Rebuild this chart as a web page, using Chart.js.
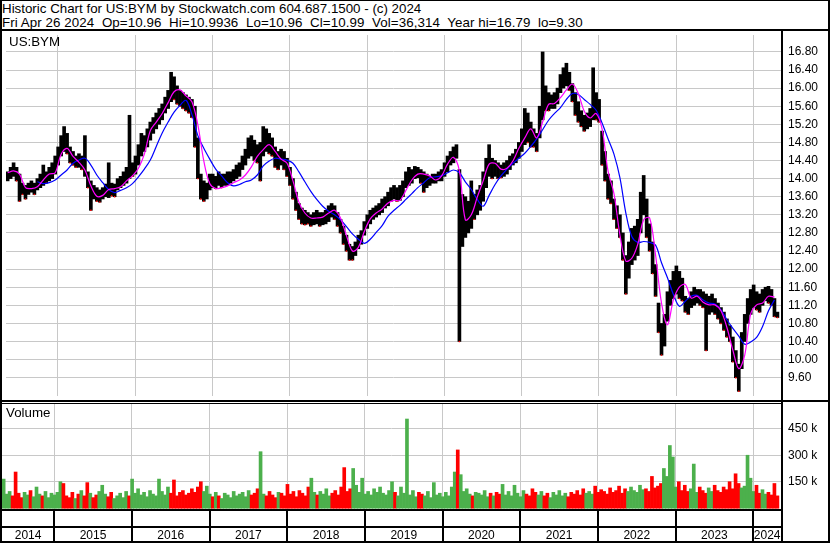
<!DOCTYPE html>
<html lang="en">
<head>
<meta charset="UTF-8">
<title>Historic Chart | US:BYM</title>
<script src="https://cdn.jsdelivr.net/npm/chart.js"></script>
<style>
    body { margin: 0; background: #fff; }
    #frame { position: relative; width: 830px; height: 543px; overflow: hidden; background: #fff;
             font-family: "Liberation Sans", Arial, sans-serif; color: #000; }
    .title-line { position: absolute; left: 2px; font-size: 13.33px; line-height: 14px; white-space: pre; }
    .panel-label { position: absolute; font-size: 13.33px; line-height: 14px; }
    .rule { position: absolute; background: #000; }
    #priceWrap { position: absolute; left: 2px; top: 31px; width: 826px; height: 369px; }
    #volWrap { position: absolute; left: 2px; top: 404px; width: 826px; height: 137px; }
</style>
</head>
<body>
<div id="frame">
    <div class="title-line" style="top:2px;">Historic Chart for US:BYM by Stockwatch.com 604.687.1500 - (c) 2024</div>
    <div class="title-line" style="top:16px; letter-spacing:0.08px;">Fri Apr 26 2024  Op=10.96  Hi=10.9936  Lo=10.96  Cl=10.99  Vol=36,314  Year hi=16.79  lo=9.30</div>

    <div id="priceWrap"><canvas id="priceChart" width="826" height="369"></canvas></div>
    <div id="volWrap"><canvas id="volumeChart" width="826" height="137"></canvas></div>

    <div class="panel-label" style="left:9px; top:35px;">US:BYM</div>
    <div class="panel-label" style="left:6px; top:406px;">Volume</div>

    <!-- frame lines -->
    <div class="rule" style="left:0; top:0; width:830px; height:1px;"></div>
    <div class="rule" style="left:0; top:0; width:2px; height:543px;"></div>
    <div class="rule" style="left:828px; top:0; width:2px; height:543px;"></div>
    <div class="rule" style="left:0; top:541px; width:830px; height:2px;"></div>
    <div class="rule" style="left:0; top:29px; width:830px; height:2px;"></div>
    <div class="rule" style="left:0; top:400px; width:830px; height:2px;"></div>
    <div class="rule" style="left:0; top:403px; width:783px; height:1px;"></div>
    <div class="rule" style="left:781px; top:29px; width:2px; height:514px;"></div>
    <div class="rule" style="left:0; top:509px; width:783px; height:2px;"></div>
    <div class="rule" style="left:0; top:526px; width:783px; height:2px;"></div>
</div>

<script>
    // Values, one bin = two weeks
    const firstBin = 2014.33;
    const binYears = 1 / 26;

    const priceLow = [
        13.95,14.00,14.05,13.95,13.50,13.65,13.55,13.65,13.70,13.65,
        13.75,13.80,13.85,13.90,13.95,14.00,14.10,14.30,14.50,14.60,
        14.55,14.35,14.30,14.25,14.25,14.20,14.05,13.80,13.30,13.55,
        13.50,13.48,13.55,13.60,13.58,13.62,13.60,13.75,13.80,13.85,
        13.90,14.00,14.05,14.10,14.30,14.50,14.60,14.70,14.85,15.00,
        15.10,15.20,15.30,15.45,15.55,15.70,15.75,15.65,15.60,15.55,
        15.50,15.45,15.35,14.70,14.00,13.55,13.50,13.55,13.75,13.80,
        13.78,13.85,13.80,13.85,13.85,13.90,13.95,14.00,14.05,14.20,
        14.30,14.45,14.50,14.40,14.35,13.95,14.50,14.60,14.55,14.50,
        14.25,14.20,14.30,14.20,14.05,13.85,13.55,13.30,13.10,13.00,
        12.98,13.00,12.95,12.98,13.00,12.95,12.98,13.00,13.05,13.15,
        13.10,12.95,12.80,12.55,12.40,12.20,12.20,12.30,12.45,12.55,
        12.75,12.90,13.00,13.10,13.15,13.20,13.25,13.35,13.40,13.50,
        13.55,13.50,13.52,13.60,13.80,13.85,13.90,14.00,14.02,13.90,
        13.70,13.80,13.85,13.90,13.90,13.95,13.95,14.05,14.15,14.30,
        14.35,14.45,10.40,12.50,12.70,12.80,12.90,13.10,13.20,13.30,
        13.50,13.80,14.05,14.00,14.05,14.00,14.02,14.05,14.10,14.20,
        14.30,14.35,14.45,14.60,14.75,14.80,14.70,14.70,14.60,14.90,
        15.30,15.50,15.50,15.55,15.55,15.65,15.90,16.00,16.05,15.95,
        15.70,15.40,15.25,15.15,15.05,15.10,15.15,15.30,15.30,15.25,
        14.30,13.95,13.55,13.45,13.10,12.90,12.70,12.20,11.45,11.80,
        12.10,12.20,12.30,12.80,13.20,12.70,12.40,11.90,11.40,10.60,
        10.10,10.30,10.85,11.20,11.35,11.45,11.35,11.30,11.05,11.00,
        11.15,11.20,11.25,11.20,11.15,10.20,11.00,11.05,11.00,10.90,
        10.80,10.65,10.50,10.40,9.95,9.60,9.30,9.80,10.40,10.80,
        11.00,11.15,11.10,11.05,11.20,11.30,11.25,11.20,10.95,10.93
    ];

    const priceHigh = [
        14.15,14.25,14.35,14.25,14.10,13.90,13.85,13.90,13.95,13.90,
        14.00,14.10,14.30,14.15,14.25,14.35,14.50,14.70,14.95,15.15,
        15.00,14.70,14.60,14.50,14.55,14.50,14.95,14.15,13.95,13.85,
        13.80,13.75,13.80,13.88,14.35,13.90,13.88,14.00,14.05,14.15,
        14.25,15.40,14.35,14.50,14.75,15.00,14.95,15.10,15.25,15.35,
        15.45,15.55,15.65,15.80,15.95,16.35,16.25,16.05,15.95,15.90,
        15.85,15.80,15.75,15.60,14.90,14.10,13.95,13.90,14.10,14.10,
        14.05,14.15,14.10,14.10,14.15,14.15,14.20,14.30,14.35,14.50,
        14.65,14.90,14.95,14.85,14.75,14.80,15.15,15.10,15.00,14.90,
        14.70,14.60,14.65,14.60,14.45,14.25,14.00,13.70,13.45,13.35,
        13.30,13.25,13.20,13.25,13.30,13.25,13.25,13.30,13.40,13.45,
        13.40,13.25,13.10,12.95,12.75,12.55,12.50,12.60,12.75,12.85,
        13.05,13.20,13.30,13.35,13.40,13.45,13.55,13.60,13.70,13.80,
        13.85,13.80,13.85,13.95,14.15,14.25,14.20,14.27,14.25,14.20,
        14.15,14.10,14.05,14.10,14.10,14.15,14.20,14.35,14.50,14.60,
        14.70,14.75,14.20,13.65,13.60,13.50,13.95,13.65,13.75,13.85,
        14.15,14.45,14.75,14.45,14.40,14.35,14.30,14.35,14.40,14.50,
        14.55,14.65,14.80,15.10,15.55,15.45,15.25,15.10,15.00,15.60,
        16.80,16.05,15.90,15.85,15.90,16.00,16.30,16.45,16.55,16.35,
        16.10,15.90,15.70,15.50,15.40,15.45,15.55,16.45,15.90,15.75,
        15.05,14.60,14.10,13.95,13.55,13.40,13.20,12.80,12.30,12.60,
        12.90,12.95,13.10,13.70,14.07,13.55,13.00,12.60,12.10,11.25,
        10.80,11.00,11.50,11.75,11.95,12.07,11.95,11.80,11.40,11.35,
        11.50,11.60,11.55,11.55,11.50,11.45,11.40,11.45,11.35,11.25,
        11.15,11.05,10.90,10.75,10.50,10.20,9.90,10.60,11.00,11.35,
        11.55,11.65,11.50,11.45,11.55,11.60,11.62,11.55,11.35,11.05
    ];

    // volume in thousands of shares
    const volumeK = [
        165,80,95,70,205,85,60,90,75,100,
        65,120,80,70,95,60,85,75,90,150,
        140,70,60,90,55,80,100,70,145,85,
        60,75,95,130,80,65,90,55,70,85,
        60,95,70,165,85,110,75,90,65,100,
        80,70,165,95,75,120,85,160,70,90,
        100,75,85,110,90,120,150,95,125,80,
        65,90,70,55,85,75,60,95,70,80,
        90,65,100,75,85,110,320,80,70,95,
        75,60,90,85,70,135,80,95,65,100,
        85,70,120,170,90,75,95,80,110,70,
        85,100,75,120,230,95,110,225,130,90,
        170,80,95,75,110,90,120,85,75,100,
        150,90,70,120,85,505,75,100,65,90,
        80,70,95,60,145,75,85,65,90,70,
        120,205,330,190,95,110,80,70,90,85,
        75,100,65,85,70,90,80,135,75,95,
        70,130,85,65,100,80,70,110,90,75,
        95,70,85,60,90,75,100,70,85,65,
        90,80,100,75,110,85,95,80,125,90,
        105,95,80,115,90,100,125,85,110,95,
        120,100,90,130,105,110,95,180,115,125,
        140,225,180,355,290,120,150,100,130,95,
        110,250,90,120,100,85,115,95,130,100,
        90,120,105,150,110,195,140,115,125,300,
        170,95,130,85,105,80,90,75,140,70
    ];

    // moving averages, read at every second bin
    const maFast = [
        14.13,14.17,14.10,13.80,13.78,13.82,13.97,14.10,14.13,14.54,
        14.67,14.49,14.36,14.19,13.84,13.61,13.63,13.76,13.78,13.82,
        13.95,14.06,14.23,14.54,15.06,15.25,15.44,15.68,15.92,15.96,
        15.83,15.70,15.19,14.39,13.89,13.78,13.80,13.84,13.91,13.97,
        14.08,14.26,14.49,14.64,14.75,14.60,14.43,14.34,13.95,13.48,
        13.24,13.13,13.13,13.15,13.24,13.30,13.13,12.74,12.40,12.48,
        12.83,13.11,13.24,13.33,13.46,13.52,13.52,13.74,13.97,14.10,
        14.10,14.06,13.97,14.06,14.32,14.47,14.17,13.09,13.20,13.59,
        13.95,14.32,14.34,14.21,14.23,14.39,14.67,14.90,15.10,14.90,
        15.25,15.64,15.66,15.79,15.96,16.09,15.88,15.49,15.34,15.44,
        15.10,14.17,13.67,12.76,12.18,12.24,12.55,13.09,13.13,12.31,
        11.25,10.77,11.32,11.60,11.66,11.36,11.40,11.27,11.21,11.21,
        11.08,10.71,10.21,9.80,10.10,11.01,11.21,11.25,11.40,11.38
    ];

    const maSlow = [
        null,null,null,null,null,13.93,13.89,13.91,13.97,14.08,
        14.19,14.34,14.41,14.45,14.30,14.08,13.91,13.76,13.69,13.74,
        13.80,13.89,14.04,14.21,14.41,14.71,15.01,15.25,15.47,15.62,
        15.73,15.42,14.95,14.67,14.43,14.21,14.06,13.91,13.84,13.87,
        13.93,13.97,14.08,14.28,14.39,14.45,14.43,14.41,14.34,14.15,
        13.93,13.72,13.54,13.39,13.28,13.20,13.09,12.94,12.78,12.66,
        12.57,12.66,12.81,12.96,13.17,13.30,13.41,13.54,13.67,13.80,
        13.91,14.02,14.04,14.06,14.13,14.19,14.13,13.93,13.76,13.54,
        13.39,13.63,13.87,14.06,14.21,14.34,14.45,14.56,14.71,14.88,
        15.08,15.29,15.44,15.57,15.75,15.88,15.86,15.75,15.64,15.51,
        15.23,14.88,14.54,14.02,13.24,12.72,12.59,12.61,12.59,12.53,
        12.14,11.81,11.44,11.18,11.29,11.40,11.42,11.32,11.25,11.23,
        11.10,10.88,10.69,10.52,10.34,10.39,10.49,10.73,11.08,11.32
    ];

    const priceTicks = [9.6, 10.0, 10.4, 10.8, 11.2, 11.6, 12.0, 12.4, 12.8, 13.2,
                        13.6, 14.0, 14.4, 14.8, 15.2, 15.6, 16.0, 16.4, 16.8];
    const volumeTicks = [150, 300, 450];
    const yearLines = [2015, 2016, 2017, 2018, 2019, 2020, 2021, 2022, 2023, 2024];
    const yearLabels = ['2014', '2015', '2016', '2017', '2018', '2019', '2020', '2021', '2022', '2023', '2024'];

    // visible window of the chart
    const viewStart = 2014.328;
    const viewEnd = 2024.357;

    const font = { family: '"Liberation Sans", Arial, sans-serif', size: 12 };
    const gridColor = '#c8c8c8';
    const upColor = '#4cb04c';
    const downColor = '#ff0000';

    function binX(i) {
        return firstBin + (i + 0.5) * binYears;
    }

    // chart.js pads axes for their labels; the panels here run edge to edge
    function noPadding(s) {
        s.paddingLeft = 0;
        s.paddingRight = 0;
        s.paddingTop = 0;
        s.paddingBottom = 0;
    }

    const priceBars = priceLow.map((lo, i) => ({ x: binX(i), y: [lo, priceHigh[i]] }));
    const fastLine = maFast.map((v, k) => ({ x: binX(2 * k), y: v }));
    const slowLine = maSlow.map((v, k) => ({ x: binX(2 * k), y: v }));

    // up / down colouring from the bin mid price
    const mid = priceLow.map((lo, i) => (lo + priceHigh[i]) / 2);
    const isUp = mid.map((m, i) => i === 0 || m >= mid[i - 1]);
    const volumeColors = isUp.map(u => u ? upColor : downColor);
    const volumeBars = volumeK.map((v, i) => ({ x: binX(i), y: v }));
    // small red marks at the low end of falling bins
    const downMarks = priceLow.map((lo, i) => ({ x: binX(i), y: isUp[i] ? null : lo }));

    // year label positions: middle of the visible part of each year
    const labelPos = yearLabels.map(y => {
        const a = Math.max(Number(y), viewStart);
        const b = Math.min(Number(y) + 1, viewEnd);
        return (a + b) / 2;
    });

    function yearAxis() {
        return {
            type: 'linear', min: viewStart, max: viewEnd, offset: false,
            grid: { color: gridColor, lineWidth: 1, drawTicks: false, offset: false },
            border: { display: false },
            ticks: { display: false },
            afterBuildTicks: s => { s.ticks = yearLines.map(v => ({ value: v })); },
            afterFit: s => { s.height = 0; noPadding(s); }
        };
    }

    // price panel
    new Chart(document.getElementById('priceChart'), {
        type: 'bar',
        data: {
            datasets: [
                { type: 'line', data: fastLine, borderColor: '#ff00ff', borderWidth: 1.2,
                  pointRadius: 0, tension: 0.35, order: 1 },
                { type: 'line', data: slowLine, borderColor: '#0000ff', borderWidth: 1.2,
                  pointRadius: 0, tension: 0.35, order: 2 },
                { type: 'line', data: downMarks, showLine: false, pointStyle: 'rect',
                  pointRadius: 1, pointBackgroundColor: '#ff0000', pointBorderWidth: 0, order: 3 },
                { data: priceBars, backgroundColor: '#000', barThickness: 3, order: 4 }
            ]
        },
        options: {
            responsive: false,
            animation: false,
            events: [],
            layout: { padding: 0 },
            plugins: { legend: { display: false }, tooltip: { enabled: false } },
            scales: {
                x: yearAxis(),
                y: {
                    position: 'right', min: 9.196, max: 17.174,
                    grid: { color: gridColor, lineWidth: 1, drawTicks: false },
                    border: { display: false },
                    ticks: { font: font, color: '#000', padding: 7, callback: v => v.toFixed(2) },
                    afterBuildTicks: s => { s.ticks = priceTicks.map(v => ({ value: v })); },
                    afterFit: s => { s.width = 47; noPadding(s); }
                }
            }
        }
    });

    // black separators of the year strip under the volume panel
    const yearStrip = {
        id: 'yearStrip',
        afterDraw(chart) {
            const ctx = chart.ctx;
            const xs = chart.scales.x;
            ctx.save();
            ctx.fillStyle = '#000';
            yearLines.forEach(y => {
                const px = Math.round(xs.getPixelForValue(y));
                ctx.fillRect(px - 1, chart.chartArea.bottom, 2, chart.height - chart.chartArea.bottom);
            });
            ctx.restore();
        }
    };

    // volume panel
    new Chart(document.getElementById('volumeChart'), {
        type: 'bar',
        data: {
            datasets: [
                { data: volumeBars, backgroundColor: volumeColors, barThickness: 3 }
            ]
        },
        options: {
            responsive: false,
            animation: false,
            events: [],
            layout: { padding: 0 },
            plugins: { legend: { display: false }, tooltip: { enabled: false } },
            scales: {
                x: yearAxis(),
                x2: {
                    type: 'linear', position: 'bottom', min: viewStart, max: viewEnd, offset: false,
                    grid: { display: false, drawTicks: false },
                    border: { display: false },
                    ticks: { font: font, color: '#000', padding: 18, maxRotation: 0,
                             callback: (v, i) => yearLabels[i] },
                    afterBuildTicks: s => { s.ticks = labelPos.map(v => ({ value: v })); },
                    afterFit: s => { s.height = 31; noPadding(s); }
                },
                y: {
                    position: 'right', min: -10, max: 590,
                    grid: { color: gridColor, lineWidth: 1, drawTicks: false },
                    border: { display: false },
                    ticks: { font: font, color: '#000', padding: 7, callback: v => v + ' k' },
                    afterBuildTicks: s => { s.ticks = volumeTicks.map(v => ({ value: v })); },
                    afterFit: s => { s.width = 47; noPadding(s); }
                }
            }
        },
        plugins: [yearStrip]
    });
</script>
</body>
</html>
